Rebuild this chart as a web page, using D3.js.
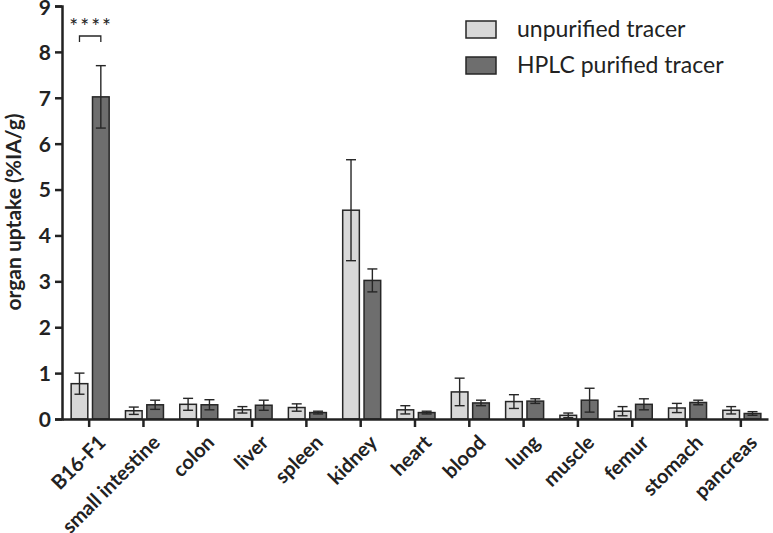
<!DOCTYPE html>
<html>
<head>
<meta charset="utf-8">
<script src="https://cdn.jsdelivr.net/npm/d3@7"></script>
<style>
  body { margin: 0; background: #fff; }
  text { font-family: Lato, "Open Sans", sans-serif; fill: #222; }
</style>
</head>
<body>
<svg id="chart" width="773" height="533"></svg>
<script>
var organs = ["B16-F1", "small intestine", "colon", "liver", "spleen", "kidney", "heart",
              "blood", "lung", "muscle", "femur", "stomach", "pancreas"];
var seriesNames = ["unpurified tracer", "HPLC purified tracer"];

// mean values (%IA/g)
var unpurified = [0.77, 0.18, 0.32, 0.20, 0.25, 4.55, 0.20, 0.59, 0.38, 0.08, 0.17, 0.24, 0.19];
var purified   = [7.02, 0.31, 0.31, 0.30, 0.14, 3.02, 0.14, 0.35, 0.39, 0.41, 0.32, 0.36, 0.12];
// error (sd)
var unpurifiedErr = [0.23, 0.08, 0.13, 0.07, 0.08, 1.10, 0.09, 0.30, 0.15, 0.05, 0.10, 0.10, 0.08];
var purifiedErr   = [0.68, 0.10, 0.11, 0.11, 0.03, 0.25, 0.03, 0.06, 0.05, 0.26, 0.12, 0.05, 0.04];

var yTicks = [0, 1, 2, 3, 4, 5, 6, 7, 8, 9];

var colours = ["#d8d8d8", "#6e6e6e"];

var svg = d3.select("#chart");

var x = d3.scaleBand()
    .domain(organs)
    .range([62, 768])
    .padding(0);

var inner = d3.scaleBand()
    .domain([0, 1])
    .range([-18, 20])
    .paddingInner(0.22);

var y = d3.scaleLinear()
    .domain([0, 9])
    .range([419, 6]);

var data = organs.map(function (o, i) {
    return {
        organ: o,
        vals: [
            { s: 0, v: unpurified[i], e: unpurifiedErr[i] },
            { s: 1, v: purified[i], e: purifiedErr[i] }
        ]
    };
});

var groups = svg.selectAll("g.organ")
    .data(data)
    .enter().append("g")
    .attr("class", "organ")
    .attr("transform", function (d) { return "translate(" + (x(d.organ) + x.bandwidth() / 2) + ",0)"; });

groups.selectAll("rect")
    .data(function (d) { return d.vals; })
    .enter().append("rect")
    .attr("x", function (d) { return inner(d.s); })
    .attr("y", function (d) { return y(d.v); })
    .attr("width", inner.bandwidth())
    .attr("height", function (d) { return y(0) - y(d.v); })
    .attr("fill", function (d) { return colours[d.s]; })
    .attr("stroke", "#262626")
    .attr("stroke-width", 1.5);

// error bars
var err = groups.selectAll("g.err")
    .data(function (d) { return d.vals; })
    .enter().append("g")
    .attr("class", "err")
    .attr("stroke", "#262626")
    .attr("stroke-width", 1.4);

err.append("line")
    .attr("x1", function (d) { return inner(d.s) + inner.bandwidth() / 2; })
    .attr("x2", function (d) { return inner(d.s) + inner.bandwidth() / 2; })
    .attr("y1", function (d) { return y(d.v + d.e); })
    .attr("y2", function (d) { return y(Math.max(0, d.v - d.e)); });

[1, -1].forEach(function (sign) {
    err.append("line")
        .attr("x1", function (d) { return inner(d.s) + inner.bandwidth() / 2 - 5; })
        .attr("x2", function (d) { return inner(d.s) + inner.bandwidth() / 2 + 5; })
        .attr("y1", function (d) { return y(d.v + sign * d.e); })
        .attr("y2", function (d) { return y(d.v + sign * d.e); });
});

// axes
var yAxis = d3.axisLeft(y).tickValues(yTicks).tickSize(7).tickPadding(4);
var gy = svg.append("g")
    .attr("transform", "translate(62,0)")
    .call(yAxis);
gy.select(".domain").attr("stroke", "#222").attr("stroke-width", 2.5);
gy.selectAll(".tick line").attr("stroke", "#222").attr("stroke-width", 2.5);
gy.selectAll(".tick text")
    .style("font-size", "21px")
    .style("font-weight", "bold")
    .attr("fill", "#222")
    .attr("dy", function (d) { return d === 9 ? "0.42em" : "0.35em"; });

var xAxis = d3.axisBottom(x).tickSizeInner(8).tickSizeOuter(0);
var gx = svg.append("g")
    .attr("transform", "translate(0,419)")
    .call(xAxis);
gx.select(".domain").attr("stroke", "#222").attr("stroke-width", 2.5);
gx.selectAll(".tick line").attr("stroke", "#222").attr("stroke-width", 2.5);
gx.selectAll(".tick text")
    .style("font-size", "20px")
    .style("font-weight", "bold")
    .attr("fill", "#222")
    .attr("text-anchor", "end")
    .attr("dy", "0.35em")
    .attr("transform", "translate(5,12) rotate(-45)");

svg.append("text")
    .attr("transform", "translate(21,212) rotate(-90)")
    .attr("text-anchor", "middle")
    .style("font-size", "21px")
    .style("font-weight", "bold")
    .text("organ uptake (%IA/g)");

// significance bracket
var bx = x(organs[0]) + x.bandwidth() / 2;
var bracketY = 36;
svg.append("path")
    .attr("d", "M" + (bx + inner(0) + inner.bandwidth() / 2) + "," + (bracketY + 6) +
               "V" + bracketY + "H" + (bx + inner(1) + inner.bandwidth() / 2) + "V" + (bracketY + 6))
    .attr("fill", "none")
    .attr("stroke", "#262626")
    .attr("stroke-width", 1.3);
svg.append("text")
    .attr("x", bx + 2)
    .attr("y", 34)
    .attr("text-anchor", "middle")
    .style("font-size", "21px")
    .style("letter-spacing", "2px")
    .attr("fill", "#444")
    .text("****");

// legend
var legend = svg.append("g").attr("transform", "translate(466,21)");
var li = legend.selectAll("g")
    .data(seriesNames)
    .enter().append("g")
    .attr("transform", function (d, i) { return "translate(0," + (i * 36) + ")"; });
li.append("rect")
    .attr("width", 30)
    .attr("height", 17)
    .attr("fill", function (d, i) { return colours[i]; })
    .attr("stroke", "#262626")
    .attr("stroke-width", 1.5);
li.append("text")
    .attr("x", 51)
    .attr("y", 16)
    .style("font-size", "23px")
    .text(function (d) { return d; });
</script>
</body>
</html>
